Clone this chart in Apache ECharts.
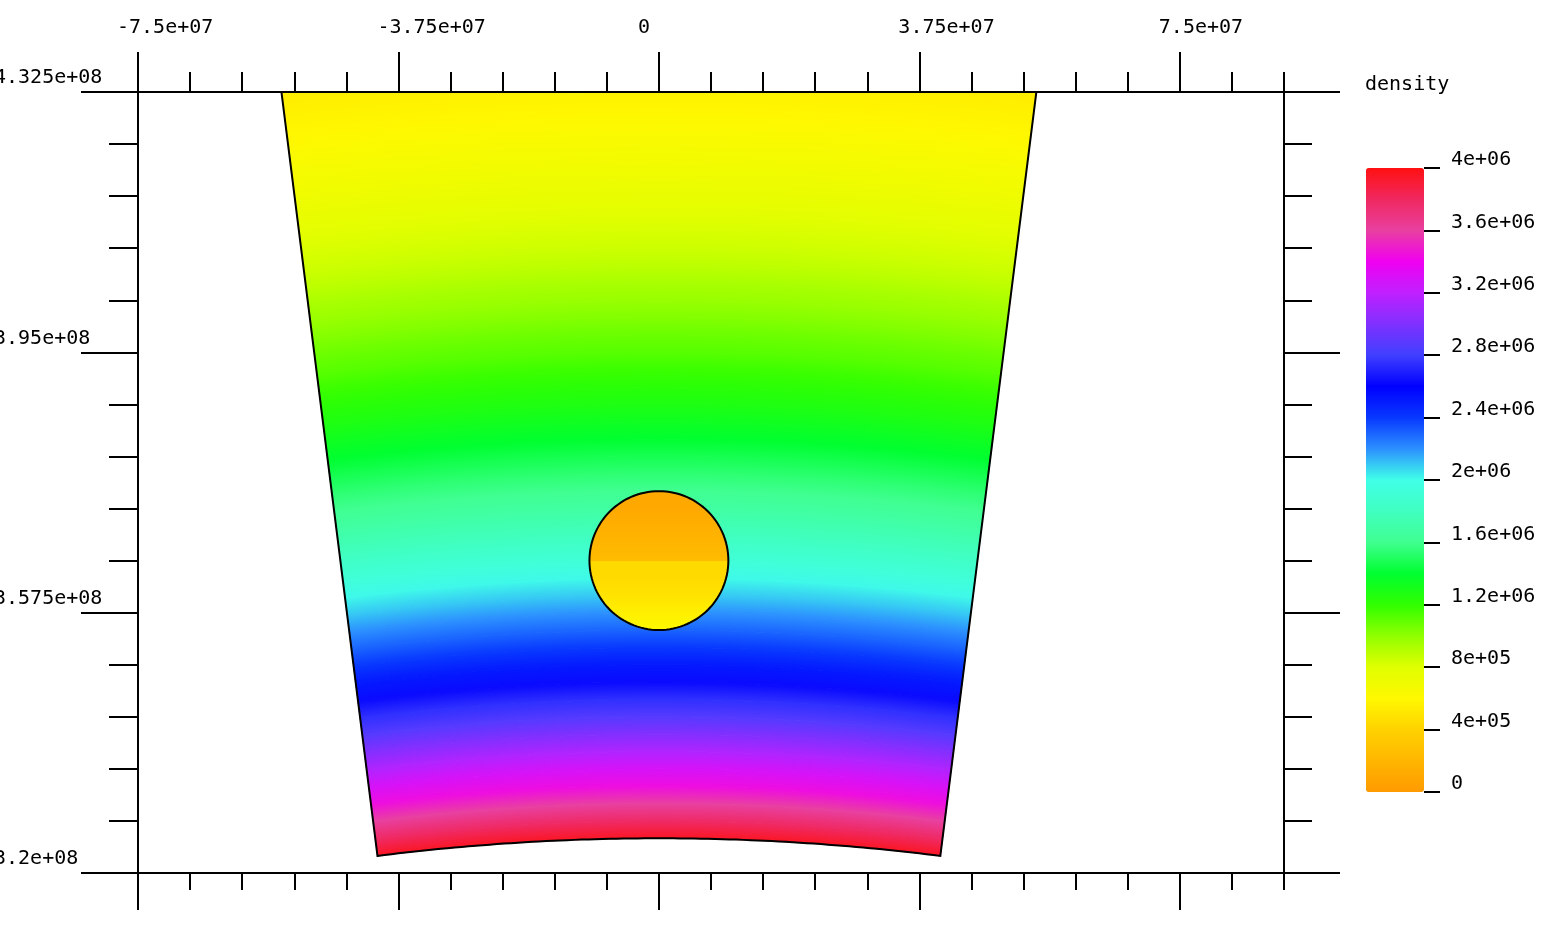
<!DOCTYPE html>
<html>
<head>
<meta charset="utf-8">
<title>density</title>
<script src="https://cdn.jsdelivr.net/npm/echarts@6/dist/echarts.min.js"></script>
<style>
html, body { margin: 0; padding: 0; background: #fff; }
#densityChart { width: 1550px; height: 950px; }
</style>
</head>
<body>
<div id="densityChart"></div>
<script>
// tick values of the plot frame
const xTicks = [-7.5e7, -3.75e7, 0, 3.75e7, 7.5e7];
const yTicks = [3.2e8, 3.575e8, 3.95e8, 4.325e8];

// shell: density at radius nodes, starting at the inner radius, around the y axis
const shellInner = 3.25e8;
const shellStep = 2.5e6;
const shellHalfAngle = 0.125;
const shellDensity = [
  3.95e6, 3.78e6, 3.60e6, 3.44e6, 3.29e6, 3.15e6, 3.01e6, 2.87e6, 2.75e6, 2.63e6,
  2.51e6, 2.40e6, 2.30e6, 2.20e6, 2.10e6, 2.01e6, 1.92e6, 1.84e6, 1.76e6, 1.68e6,
  1.61e6, 1.54e6, 1.47e6, 1.40e6, 1.34e6, 1.28e6, 1.23e6, 1.18e6, 1.12e6, 1.08e6,
  1.03e6, 0.98e6, 0.94e6, 0.89e6, 0.85e6, 0.82e6, 0.78e6, 0.75e6, 0.71e6, 0.68e6,
  0.65e6, 0.62e6, 0.59e6, 0.57e6, 0.54e6
];

// cloud: circle, density at horizontal strip edges (bottom to top)
const cloudCenter = [0, 3.65e8];
const cloudRadius = 1e7;
const cloudSplit = 3.65e8;
const cloudEdges = [3.55e8, 3.575e8, 3.6e8, 3.625e8, 3.65e8, 3.675e8, 3.7e8, 3.725e8, 3.75e8];
const cloudDensity = [0.62e6, 0.55e6, 0.49e6, 0.44e6, 0.24e6, 0.19e6, 0.15e6, 0.11e6];

// colour table, 0 .. 4e6 in steps of 2e5
const densityColors = [
  '#ff9a00', '#ffb600', '#ffd200', '#fff800', '#e0ff00', '#90ff00', '#30ff00',
  '#00ff30', '#40ff90', '#40ffc0', '#40ffe8', '#2c90ff', '#0838ff', '#0000ff',
  '#4040ff', '#8030ff', '#c020ff', '#f000f0', '#e840a0', '#f02860', '#ff1010'
];

const font = 'DejaVu Sans Mono';
const black = '#000';
const frameLine = { color: black, width: 2 };

function sci(v) {
  if (Math.abs(v) < 1e-9) return '0';
  const s = Number(v.toPrecision(6)).toExponential();
  return s.replace(/e([+-])(\d+)$/, (m, sign, exp) => 'e' + sign + (exp.length < 2 ? '0' + exp : exp));
}

const aLeft = Math.PI / 2 + shellHalfAngle;
const aRight = Math.PI / 2 - shellHalfAngle;

function arcPoints(api, r, from, to, n) {
  const pts = [];
  for (let k = 0; k <= n; k++) {
    const a = from + (to - from) * k / n;
    pts.push(api.coord([r * Math.cos(a), r * Math.sin(a)]));
  }
  return pts;
}

function stripPoints(api, y1, y2, n) {
  const [cx, cy] = cloudCenter;
  const R = cloudRadius;
  const right = [], left = [];
  for (let k = 0; k <= n; k++) {
    const y = y1 + (y2 - y1) * k / n;
    const dx = Math.sqrt(Math.max(0, R * R - (y - cy) * (y - cy)));
    right.push(api.coord([cx + dx, y]));
    left.unshift(api.coord([cx - dx, y]));
  }
  return right.concat(left);
}

const shellData = shellDensity.map((d, i) => [shellInner + i * shellStep, shellInner + (i + 1) * shellStep, d]);
const cloudData = cloudDensity.map((d, i) => [cloudEdges[i], cloudEdges[i + 1], d]);
const shellOuter = shellInner + shellDensity.length * shellStep;

function xAxisOf(position, major, minor, labels) {
  return {
    gridIndex: 0, type: 'value', position: position, z: 10,
    min: -7.5e7, max: 9.0001e7, interval: 3.75e7,
    axisLine: { onZero: false, lineStyle: frameLine },
    axisTick: { customValues: xTicks, length: major, lineStyle: frameLine },
    minorTick: { show: true, splitNumber: 5, length: minor, lineStyle: frameLine },
    splitLine: { show: false }, minorSplitLine: { show: false },
    axisLabel: labels ? {
      customValues: xTicks,
      formatter: v => '{t|' + sci(v) + '}',
      align: 'center', margin: 54,
      rich: { t: { width: 42, align: 'left', fontFamily: font, fontSize: 20, lineHeight: 20, color: black } }
    } : { show: false }
  };
}

function yAxisOf(position, major, minor, labels) {
  return {
    gridIndex: 0, type: 'value', position: position, z: 10,
    min: 3.2e8, max: 4.325e8, interval: 3.75e7,
    axisLine: { onZero: false, lineStyle: frameLine },
    axisTick: { length: major, lineStyle: frameLine },
    minorTick: { show: true, splitNumber: 5, length: minor, lineStyle: frameLine },
    splitLine: { show: false }, minorSplitLine: { show: false },
    axisLabel: labels ? {
      formatter: sci, align: 'left', verticalAlign: 'bottom', margin: 144,
      fontFamily: font, fontSize: 20, lineHeight: 28, color: black
    } : { show: false }
  };
}

const chart = echarts.init(document.getElementById('densityChart'));
const option = {
  backgroundColor: '#fff',
  animation: false,
  title: {
    text: 'density', left: 1365, top: 75, padding: 0,
    textStyle: { fontFamily: font, fontSize: 20, fontWeight: 'normal', color: black, lineHeight: 20 }
  },
  grid: [
    { left: 138, top: 92, width: 1146, height: 781, outerBoundsMode: 'none' },
    { left: 1366, top: 168, width: 58, height: 624, outerBoundsMode: 'none' }
  ],
  xAxis: [
    xAxisOf('top', 40, 20, true),
    xAxisOf('bottom', 37, 17, false),
    { gridIndex: 1, type: 'value', show: false, min: 0, max: 1 }
  ],
  yAxis: [
    yAxisOf('left', 57, 29, true),
    yAxisOf('right', 56, 28, false),
    {
      gridIndex: 1, type: 'value', position: 'right', min: 0, max: 4e6, interval: 4e5, z: 10,
      axisLine: { show: false, onZero: false },
      axisTick: { show: true, length: 16, lineStyle: frameLine },
      splitLine: { show: false },
      axisLabel: {
        formatter: sci, margin: 27, align: 'left', verticalAlign: 'bottom',
        fontFamily: font, fontSize: 20, lineHeight: 16, color: black
      }
    }
  ],
  visualMap: {
    type: 'continuous', min: 0, max: 4e6, dimension: 2, seriesIndex: [0, 1],
    inRange: { color: densityColors },
    left: 1366, top: 168, itemWidth: 58, itemHeight: 624, padding: 0,
    calculable: false, hoverLink: false
  },
  series: [
    {
      type: 'custom', name: 'shell', xAxisIndex: 0, yAxisIndex: 0, clip: true, silent: true, z: 1,
      data: shellData,
      renderItem: function (params, api) {
        const i = params.dataIndexInside;
        const r1 = api.value(0), r2 = api.value(1);
        const c0 = api.visual('color');
        const c1 = i + 1 < params.dataInsideLength ? api.visual('color', i + 1) : c0;
        const o = api.coord([0, 0]);
        const R1 = o[1] - api.coord([0, r1])[1];
        const R2 = o[1] - api.coord([0, r2])[1];
        const fill = new echarts.graphic.RadialGradient(o[0], o[1], R2, [
          { offset: 0, color: c0 }, { offset: R1 / R2, color: c0 }, { offset: 1, color: c1 }
        ], true);
        const pts = arcPoints(api, r1, aLeft, aRight, 60).concat(arcPoints(api, r2, aRight, aLeft, 60));
        return { type: 'polygon', shape: { points: pts }, style: { fill: fill, stroke: fill, lineWidth: 1 } };
      }
    },
    {
      type: 'custom', name: 'cloud', xAxisIndex: 0, yAxisIndex: 0, clip: true, silent: true, z: 2,
      data: cloudData,
      renderItem: function (params, api) {
        const i = params.dataIndexInside;
        const y1 = api.value(0), y2 = api.value(1);
        const c0 = api.visual('color');
        const c1 = (i + 1 < params.dataInsideLength && y2 !== cloudSplit) ? api.visual('color', i + 1) : c0;
        const p1 = api.coord([0, y1]), p2 = api.coord([0, y2]);
        const fill = new echarts.graphic.LinearGradient(0, p1[1], 0, p2[1], [
          { offset: 0, color: c0 }, { offset: 1, color: c1 }
        ], true);
        const pts = stripPoints(api, y1, y2, 14);
        return { type: 'polygon', shape: { points: pts }, style: { fill: fill, stroke: fill, lineWidth: 1 } };
      }
    },
    {
      type: 'custom', name: 'outline', xAxisIndex: 0, yAxisIndex: 0, clip: true, silent: true, z: 3,
      data: [[0, 3.65e8]],
      renderItem: function (params, api) {
        const wedge = arcPoints(api, shellInner, aLeft, aRight, 80).concat(arcPoints(api, shellOuter, aRight, aLeft, 80));
        const ring = [];
        for (let k = 0; k < 120; k++) {
          const a = 2 * Math.PI * k / 120;
          ring.push(api.coord([cloudCenter[0] + cloudRadius * Math.cos(a), cloudCenter[1] + cloudRadius * Math.sin(a)]));
        }
        return {
          type: 'group',
          children: [
            { type: 'polygon', shape: { points: wedge }, style: { fill: null, stroke: black, lineWidth: 2 } },
            { type: 'polygon', shape: { points: ring }, style: { fill: null, stroke: black, lineWidth: 2 } }
          ]
        };
      }
    }
  ]
};
chart.setOption(option);
</script>
</body>
</html>
